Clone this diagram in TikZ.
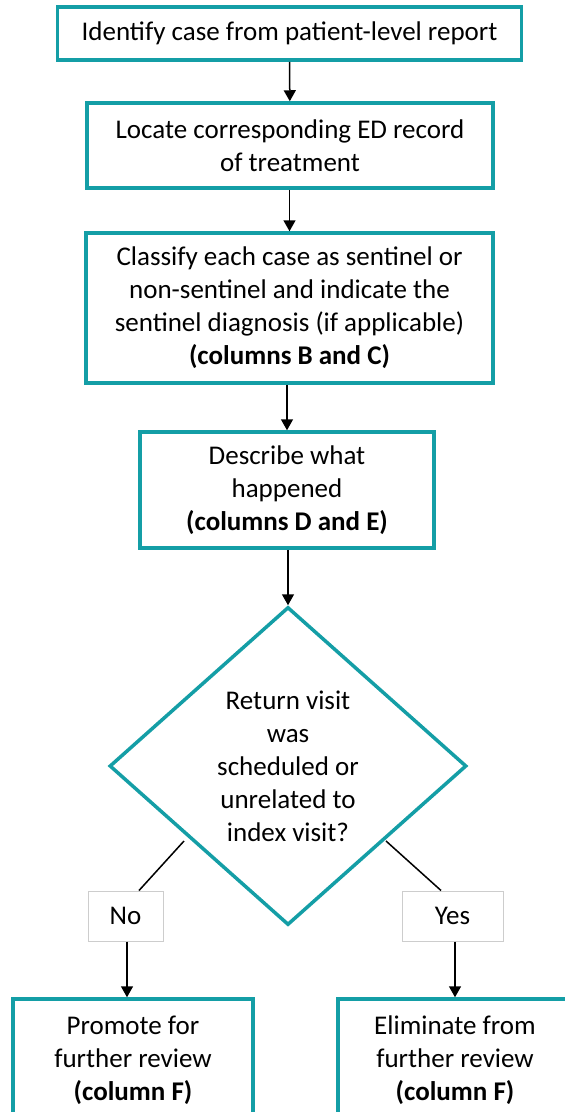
\documentclass[tikz,border=0pt]{standalone}
\usepackage{fontspec}
\setmainfont{Carlito}
\usetikzlibrary{shapes.geometric,arrows.meta,calc}
\definecolor{tealline}{RGB}{20,158,166}
\definecolor{labelline}{RGB}{205,205,205}
\tikzset{
  stepbox/.style={draw=tealline, line width=3.5bp, fill=white, align=center,
    inner sep=0pt, font=\fontsize{27bp}{33bp}\selectfont},
  decision/.style={diamond, draw=tealline, line width=3.5bp, fill=white,
    align=center, inner sep=0pt, aspect=1,
    font=\fontsize{27bp}{33bp}\selectfont},
  answer/.style={draw=labelline, line width=1bp, fill=white, align=center,
    inner sep=0pt, font=\fontsize{27bp}{33bp}\selectfont},
  flow/.style={line width=1.5bp, -{Triangle[length=11bp,width=12bp]}},
  link/.style={line width=1.5bp}
}
\begin{document}
\begin{tikzpicture}[x=1bp,y=-1bp]
  \useasboundingbox (0,0) rectangle (565,1112);
  \fill[white] (0,0) rectangle (565,1112);
  \clip (0,0) rectangle (565,1112);

  % process steps
  \node[stepbox, minimum width=464bp, minimum height=53bp] (s1) at (289.5,33.5)
    {Identify case from patient-level report};
  \node[stepbox, minimum width=406bp, minimum height=85bp] (s2) at (290,145.5)
    {Locate corresponding ED record\\of treatment};
  \node[stepbox, minimum width=407bp, minimum height=150bp] (s3) at (289.5,308)
    {Classify each case as sentinel or\\non-sentinel and indicate the\\sentinel diagnosis (if applicable)\\\textbf{(columns B and C)}};
  \node[stepbox, minimum width=294bp, minimum height=116bp] (s4) at (287,490)
    {Describe what\\happened\\\textbf{(columns D and E)}};

  % decision
  \node[decision, minimum width=357bp, minimum height=318bp] (dec) at (288,766)
    {Return visit\\was\\scheduled or\\unrelated to\\index visit?};

  % answers
  \node[answer, minimum width=75bp, minimum height=50bp] (no) at (125.5,916) {No};
  \node[answer, minimum width=101bp, minimum height=50bp] (yes) at (452.5,916) {Yes};

  % outcomes
  \node[stepbox, minimum width=240bp, minimum height=122bp] (promote) at (133,1060)
    {Promote for\\further review\\\textbf{(column F)}};
  \node[stepbox, minimum width=234bp, minimum height=122bp] (elim) at (455,1060)
    {Eliminate from\\further review\\\textbf{(column F)}};

  % connectors
  \draw[flow] (s1) -- (s2);
  \draw[flow] (s2.south -| s3.north) -- (s3.north);
  \draw[flow] (s3.south -| s4.north) -- (s4.north);
  \draw[flow] (s4.south -| dec.north) -- (dec.north);

  \coordinate (decl) at (184,841);
  \coordinate (decr) at (386,841);
  \draw[link] (decl) -- ([xshift=13.5bp]no.north);
  \draw[link] (decr) -- ([xshift=-11.5bp]yes.north);

  \draw[flow] ([xshift=1.5bp]no.south) -- ([xshift=1.5bp]no.south |- promote.north);
  \draw[flow] ([xshift=2.5bp]yes.south) -- ([xshift=2.5bp]yes.south |- elim.north);
\end{tikzpicture}
\end{document}
